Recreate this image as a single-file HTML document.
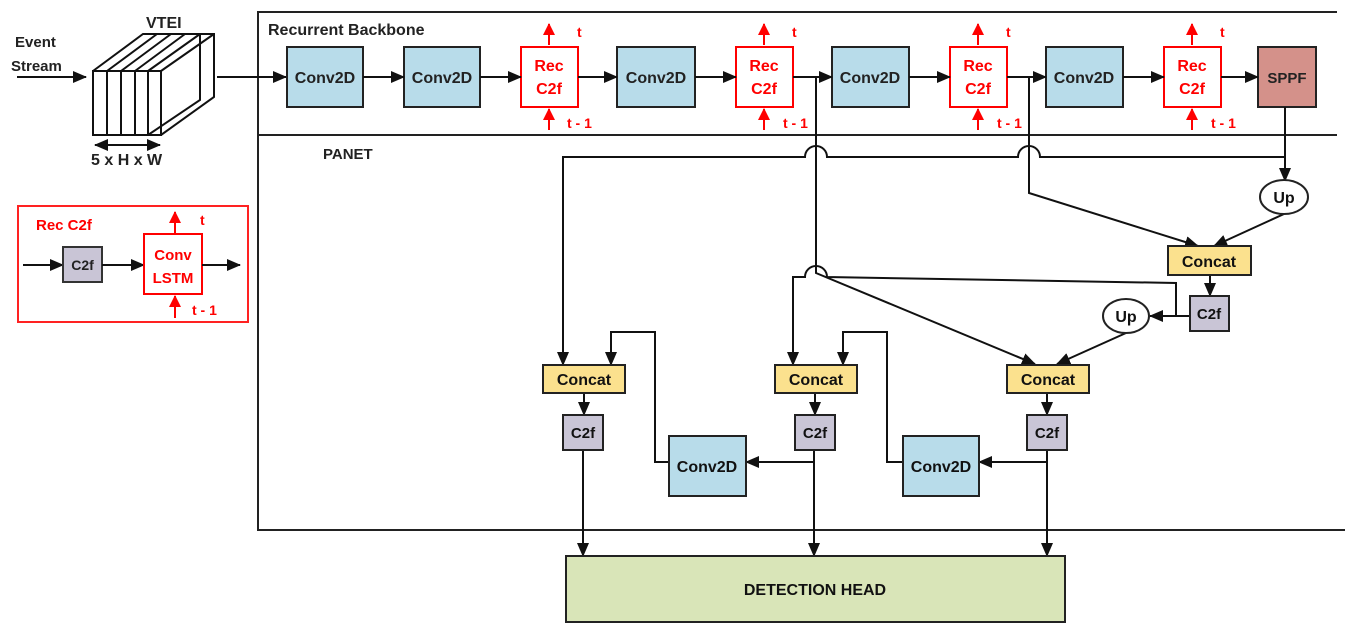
<!DOCTYPE html>
<html><head><meta charset="utf-8"><style>
html,body{margin:0;padding:0;background:#fff}
svg{display:block}
text{font-family:"Liberation Sans",sans-serif;font-weight:bold}
</style></head><body>
<svg width="1345" height="630" viewBox="0 0 1345 630" xmlns="http://www.w3.org/2000/svg">
<defs>
<marker id="a" markerUnits="userSpaceOnUse" markerWidth="14" markerHeight="12" refX="13" refY="6" orient="auto"><path d="M0,0 L14,6 L0,12 Z" fill="#111"/></marker>
<marker id="r" markerUnits="userSpaceOnUse" markerWidth="12" markerHeight="12" refX="11" refY="6" orient="auto"><path d="M0,0 L12,6 L0,12 Z" fill="#f00"/></marker>
</defs>
<g stroke="#222" stroke-width="2" fill="none">
<path d="M1337,12 H258 V530 H1345"/>
<path d="M258,135 H1337"/>
</g>
<text x="268" y="35" font-size="16" fill="#222">Recurrent Backbone</text>
<text x="323" y="159" font-size="15" fill="#222">PANET</text>

<text x="15" y="47" font-size="15" fill="#222">Event</text>
<text x="11" y="71" font-size="15" fill="#222">Stream</text>
<line x1="17" y1="77" x2="86" y2="77" stroke="#111" stroke-width="2" marker-end="url(#a)"/>
<text x="146" y="28" font-size="16" fill="#222">VTEI</text>
<g stroke="#111" stroke-width="2" fill="none">
<rect x="93" y="71" width="68" height="64" fill="#fff"/>
<path d="M107,71V135M121,71V135M135,71V135M148,71V135"/>
<path d="M93,71L143,34H214V97L161,135M161,71L214,34M107,71L157,34M121,71L171,34M135,71L185,34M148,71L200,34"/>
<path d="M200,34V100L148,135"/>
</g>
<line x1="128" y1="145" x2="160" y2="145" stroke="#111" stroke-width="2" marker-end="url(#a)"/>
<line x1="128" y1="145" x2="95" y2="145" stroke="#111" stroke-width="2" marker-end="url(#a)"/>
<text x="91" y="165" font-size="16" fill="#222">5 x H x W</text>
<line x1="217" y1="77" x2="286" y2="77" stroke="#111" stroke-width="2" marker-end="url(#a)"/>

<rect x="18" y="206" width="230" height="116" fill="none" stroke="#f22" stroke-width="2"/>
<text x="36" y="230" font-size="15" fill="#f00">Rec C2f</text>
<line x1="23" y1="265" x2="63" y2="265" stroke="#111" stroke-width="2" marker-end="url(#a)"/>
<rect x="63" y="247" width="39" height="35" fill="#c9c5d6" stroke="#333" stroke-width="2"/>
<text x="82.5" y="270" font-size="14" fill="#222" text-anchor="middle">C2f</text>
<line x1="102" y1="265" x2="144" y2="265" stroke="#111" stroke-width="2" marker-end="url(#a)"/>
<rect x="144" y="234" width="58" height="60" fill="#fff" stroke="#f00" stroke-width="2"/>
<text x="173" y="260" font-size="15" fill="#f00" text-anchor="middle">Conv</text>
<text x="173" y="283" font-size="15" fill="#f00" text-anchor="middle">LSTM</text>
<line x1="202" y1="265" x2="240" y2="265" stroke="#111" stroke-width="2" marker-end="url(#a)"/>
<line x1="175" y1="233" x2="175" y2="212" stroke="#f00" stroke-width="2" marker-end="url(#r)"/>
<text x="200" y="225" font-size="14" fill="#f00">t</text>
<line x1="175" y1="318" x2="175" y2="296" stroke="#f00" stroke-width="2" marker-end="url(#r)"/>
<text x="192" y="315" font-size="14" fill="#f00">t - 1</text>

<g stroke="#222" stroke-width="2">
<rect x="287" y="47" width="76" height="60" fill="#b8dcea"/>
<rect x="404" y="47" width="76" height="60" fill="#b8dcea"/>
<rect x="617" y="47" width="78" height="60" fill="#b8dcea"/>
<rect x="832" y="47" width="77" height="60" fill="#b8dcea"/>
<rect x="1046" y="47" width="77" height="60" fill="#b8dcea"/>
<rect x="1258" y="47" width="58" height="60" fill="#d4918a"/>
</g>
<g stroke="#f00" stroke-width="2" fill="#fff">
<rect x="521" y="47" width="57" height="60"/>
<rect x="736" y="47" width="57" height="60"/>
<rect x="950" y="47" width="57" height="60"/>
<rect x="1164" y="47" width="57" height="60"/>
</g>
<g font-size="16" fill="#222" text-anchor="middle">
<text x="325" y="83">Conv2D</text>
<text x="442" y="83">Conv2D</text>
<text x="656" y="83">Conv2D</text>
<text x="870" y="83">Conv2D</text>
<text x="1084" y="83">Conv2D</text>
<text x="1287" y="83" font-size="15">SPPF</text>
</g>
<g font-size="16" fill="#f00" text-anchor="middle">
<text x="549" y="71">Rec</text><text x="549" y="94">C2f</text>
<text x="764" y="71">Rec</text><text x="764" y="94">C2f</text>
<text x="978" y="71">Rec</text><text x="978" y="94">C2f</text>
<text x="1192" y="71">Rec</text><text x="1192" y="94">C2f</text>
</g>
<g stroke="#f00" stroke-width="2">
<line x1="549" y1="45" x2="549" y2="24" marker-end="url(#r)"/><line x1="549" y1="130" x2="549" y2="109" marker-end="url(#r)"/>
<line x1="764" y1="45" x2="764" y2="24" marker-end="url(#r)"/><line x1="764" y1="130" x2="764" y2="109" marker-end="url(#r)"/>
<line x1="978" y1="45" x2="978" y2="24" marker-end="url(#r)"/><line x1="978" y1="130" x2="978" y2="109" marker-end="url(#r)"/>
<line x1="1192" y1="45" x2="1192" y2="24" marker-end="url(#r)"/><line x1="1192" y1="130" x2="1192" y2="109" marker-end="url(#r)"/>
</g>
<g font-size="14" fill="#f00">
<text x="577" y="37">t</text><text x="567" y="128">t - 1</text>
<text x="792" y="37">t</text><text x="783" y="128">t - 1</text>
<text x="1006" y="37">t</text><text x="997" y="128">t - 1</text>
<text x="1220" y="37">t</text><text x="1211" y="128">t - 1</text>
</g>
<g stroke="#111" stroke-width="2" fill="none">
<line x1="363" y1="77" x2="404" y2="77" marker-end="url(#a)"/>
<line x1="480" y1="77" x2="521" y2="77" marker-end="url(#a)"/>
<line x1="578" y1="77" x2="617" y2="77" marker-end="url(#a)"/>
<line x1="695" y1="77" x2="736" y2="77" marker-end="url(#a)"/>
<line x1="793" y1="77" x2="832" y2="77" marker-end="url(#a)"/>
<line x1="909" y1="77" x2="950" y2="77" marker-end="url(#a)"/>
<line x1="1007" y1="77" x2="1046" y2="77" marker-end="url(#a)"/>
<line x1="1123" y1="77" x2="1164" y2="77" marker-end="url(#a)"/>
<line x1="1221" y1="77" x2="1258" y2="77" marker-end="url(#a)"/>

<path d="M1285,107 V181" marker-end="url(#a)"/>
<path d="M1285,157 H1040 A11,11 0 0 0 1018,157 H827 A11,11 0 0 0 805,157 H563 V365" marker-end="url(#a)"/>
<path d="M816,77 V273 L1035,364" marker-end="url(#a)"/>
<path d="M1029,77 V193 L1198,246" marker-end="url(#a)"/>
<path d="M1284,214 L1214,246" marker-end="url(#a)"/>
<path d="M1210,275 V296" marker-end="url(#a)"/>
<path d="M1190,316 H1150" marker-end="url(#a)"/>
<path d="M1176,316 V283 L827,277 A11,11 0 0 0 805,277 H793 V365" marker-end="url(#a)"/>
<path d="M1126,333 L1057,364" marker-end="url(#a)"/>

<path d="M584,393 V415" marker-end="url(#a)"/>
<path d="M815,393 V415" marker-end="url(#a)"/>
<path d="M1047,393 V415" marker-end="url(#a)"/>
<path d="M583,450 V556" marker-end="url(#a)"/>
<path d="M814,450 V556" marker-end="url(#a)"/>
<path d="M1047,450 V556" marker-end="url(#a)"/>
<path d="M814,462 H746" marker-end="url(#a)"/>
<path d="M1047,462 H979" marker-end="url(#a)"/>
<path d="M669,462 H655 V332 H611 V365" marker-end="url(#a)"/>
<path d="M903,462 H887 V332 H843 V365" marker-end="url(#a)"/>
</g>
<g stroke="#222" stroke-width="2">
<ellipse cx="1284" cy="197" rx="24" ry="17" fill="#fff"/>
<ellipse cx="1126" cy="316" rx="23" ry="17" fill="#fff"/>
<rect x="1168" y="246" width="83" height="29" fill="#fbe18e"/>
<rect x="543" y="365" width="82" height="28" fill="#fbe18e"/>
<rect x="775" y="365" width="82" height="28" fill="#fbe18e"/>
<rect x="1007" y="365" width="82" height="28" fill="#fbe18e"/>
<rect x="1190" y="296" width="39" height="35" fill="#c9c5d6"/>
<rect x="563" y="415" width="40" height="35" fill="#c9c5d6"/>
<rect x="795" y="415" width="40" height="35" fill="#c9c5d6"/>
<rect x="1027" y="415" width="40" height="35" fill="#c9c5d6"/>
<rect x="669" y="436" width="77" height="60" fill="#b8dcea"/>
<rect x="903" y="436" width="76" height="60" fill="#b8dcea"/>
<rect x="566" y="556" width="499" height="66" fill="#d9e5b8"/>
</g>
<g font-size="16" fill="#111" text-anchor="middle">
<text x="1284" y="203">Up</text>
<text x="1126" y="322">Up</text>
<text x="1209" y="267">Concat</text>
<text x="584" y="385">Concat</text>
<text x="816" y="385">Concat</text>
<text x="1048" y="385">Concat</text>
<text x="1209" y="319" font-size="15">C2f</text>
<text x="583" y="438" font-size="15">C2f</text>
<text x="815" y="438" font-size="15">C2f</text>
<text x="1047" y="438" font-size="15">C2f</text>
<text x="707" y="472">Conv2D</text>
<text x="941" y="472">Conv2D</text>
<text x="815" y="595">DETECTION HEAD</text>
</g>
</svg>
</body></html>
